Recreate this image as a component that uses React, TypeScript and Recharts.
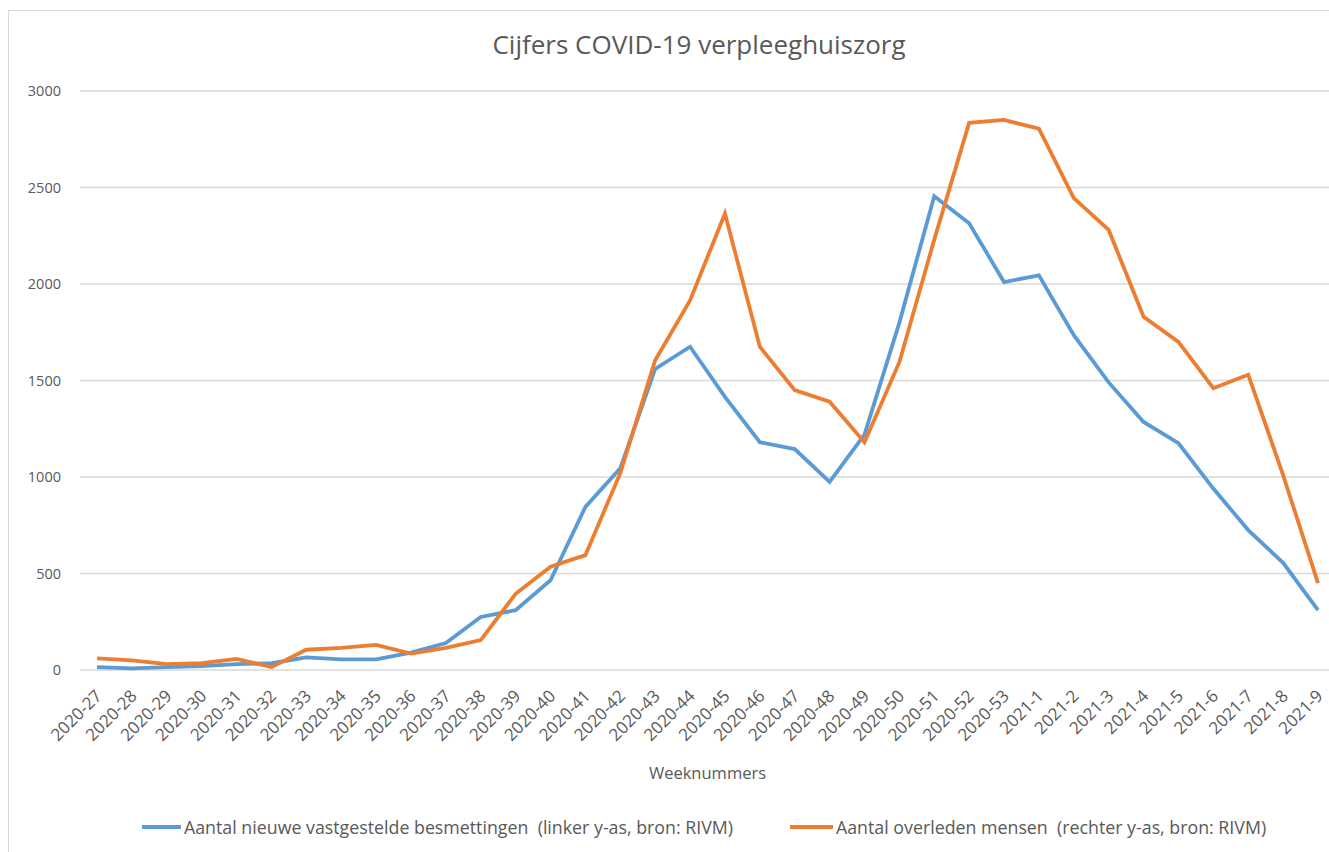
import { LineChart, Line, CartesianGrid, XAxis, YAxis } from "recharts";

const weeks = [
  "2020-27", "2020-28", "2020-29", "2020-30", "2020-31", "2020-32", "2020-33", "2020-34", "2020-35",
  "2020-36", "2020-37", "2020-38", "2020-39", "2020-40", "2020-41", "2020-42", "2020-43", "2020-44",
  "2020-45", "2020-46", "2020-47", "2020-48", "2020-49", "2020-50", "2020-51", "2020-52", "2020-53",
  "2021-1", "2021-2", "2021-3", "2021-4", "2021-5", "2021-6", "2021-7", "2021-8", "2021-9",
];

const besmettingen = [
  15, 8, 15, 20, 30, 35, 65, 55, 55, 90, 140, 275, 310, 465, 845, 1045, 1560, 1675,
  1415, 1180, 1145, 975, 1220, 1800, 2455, 2315, 2010, 2045, 1735, 1490, 1285, 1175, 940, 725, 555, 310,
];

const overleden = [
  60, 50, 30, 35, 58, 15, 105, 115, 130, 85, 115, 155, 395, 535, 595, 1020, 1605, 1915,
  2365, 1675, 1450, 1390, 1180, 1595, 2230, 2835, 2850, 2805, 2445, 2280, 1830, 1700, 1460, 1530, 1010, 450,
];

const yTicks = [0, 500, 1000, 1500, 2000, 2500, 3000];

const data = weeks.map((week, i) => ({
  week,
  besmettingen: besmettingen[i],
  overleden: overleden[i],
}));

const textColor = "#595959";
const font = "'Open Sans', sans-serif";

const WeekTick = (props: any) => {
  const { x, y, payload } = props;
  return (
    <g transform={`translate(${x + 6},${y + 27}) rotate(-45)`}>
      <text x={0} y={0} textAnchor="end" fill={textColor} fontSize={17} fontFamily={font}>
        {payload.value}
      </text>
    </g>
  );
};

export default function App() {
  return (
    <div
      style={{
        position: "absolute",
        left: 0,
        top: 0,
        width: 1329,
        height: 852,
        overflow: "hidden",
        background: "#fff",
      }}
    >
      <div
        style={{
          position: "absolute",
          left: 8,
          top: 10,
          width: 1340,
          height: 860,
          border: "1px solid #d9d9d9",
        }}
      />
      <div
        style={{
          position: "absolute",
          top: 26,
          left: 0,
          width: 1398,
          textAlign: "center",
          fontFamily: font,
          fontSize: 26,
          color: textColor,
        }}
      >
        Cijfers COVID-19 verpleeghuiszorg
      </div>

      <div style={{ position: "absolute", left: 0, top: 0 }}>
        <LineChart
          width={1340}
          height={852}
          data={data}
          margin={{ top: 91, right: 5, bottom: 0, left: 0 }}
        >
          <CartesianGrid vertical={false} stroke="#d9d9d9" strokeWidth={1.3} />
          <XAxis
            dataKey="week"
            interval={0}
            height={182}
            tickLine={false}
            axisLine={false}
            tickSize={0}
            tickMargin={0}
            padding={{ left: 17, right: 17 }}
            tick={<WeekTick />}
            label={{
              value: "Weeknummers",
              position: "insideBottom",
              offset: 73,
              fill: textColor,
              fontSize: 16.5,
              fontFamily: font,
            }}
          />
          <YAxis
            width={80}
            domain={[0, 3000]}
            ticks={yTicks}
            tickLine={false}
            axisLine={false}
            tickSize={0}
            tickMargin={19}
            tick={{ fill: textColor, fontSize: 14.5, fontFamily: font }}
          />
          <Line
            type="linear"
            dataKey="besmettingen"
            stroke="#5b9bd5"
            strokeWidth={3.8}
            dot={false}
            isAnimationActive={false}
          />
          <Line
            type="linear"
            dataKey="overleden"
            stroke="#ed7d31"
            strokeWidth={3.8}
            dot={false}
            isAnimationActive={false}
          />
        </LineChart>
      </div>

      <div
        style={{
          position: "absolute",
          top: 815,
          left: 142,
          display: "flex",
          alignItems: "center",
          fontFamily: font,
          fontSize: 17.8,
          color: textColor,
          whiteSpace: "pre",
        }}
      >
        <span style={{ display: "inline-block", width: 39, height: 4, background: "#5b9bd5", marginRight: 3 }} />
        <span>Aantal nieuwe vastgestelde besmettingen  (linker y-as, bron: RIVM)</span>
        <span style={{ display: "inline-block", width: 43, height: 4, background: "#ed7d31", marginLeft: 57, marginRight: 3 }} />
        <span>Aantal overleden mensen  (rechter y-as, bron: RIVM)</span>
      </div>
    </div>
  );
}
